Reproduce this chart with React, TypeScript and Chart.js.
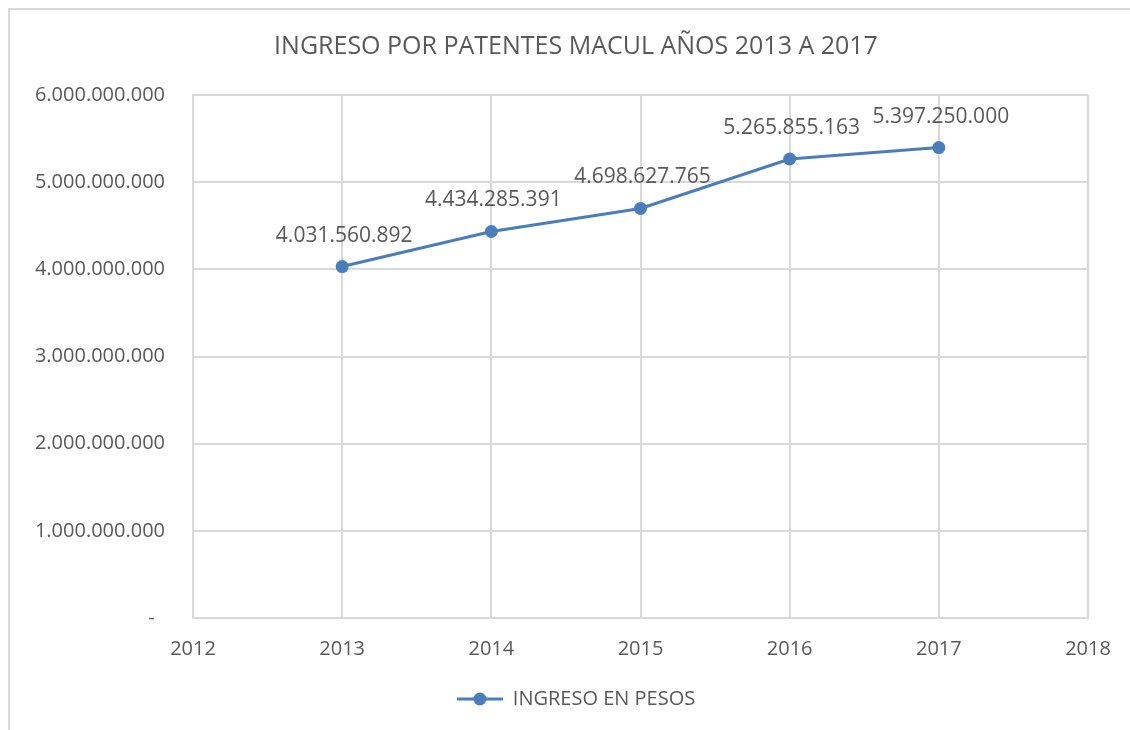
import React, { useEffect, useRef } from "react";
import { Chart, registerables } from "chart.js";

Chart.register(...registerables);

const title = "INGRESO POR PATENTES MACUL AÑOS 2013 A 2017";
const seriesName = "INGRESO EN PESOS";
const years = [2013, 2014, 2015, 2016, 2017];
const ingresos = [4031560892, 4434285391, 4698627765, 5265855163, 5397250000];
const xMin = 2012;
const xMax = 2018;
const yMin = 0;
const yMax = 6000000000;
const yStep = 1000000000;

const BLUE = "#4a7ebb";
const TEXT = "#595959";
const GRID = "#d9d9d9";
const FONT = "'Open Sans', sans-serif";
const CANVAS_W = 1152;
const CANVAS_H = 730;

function fmt(v: number): string {
  if (v === 0) return "-  ";
  return Math.round(v).toString().replace(/\B(?=(\d{3})+(?!\d))/g, ".");
}

function makeLegendIcon(): HTMLCanvasElement {
  const c = document.createElement("canvas");
  c.width = 46;
  c.height = 14;
  const g = c.getContext("2d")!;
  g.strokeStyle = BLUE;
  g.lineWidth = 3;
  g.beginPath();
  g.moveTo(0, 7);
  g.lineTo(46, 7);
  g.stroke();
  g.fillStyle = BLUE;
  g.beginPath();
  g.arc(23, 7, 6.5, 0, Math.PI * 2);
  g.fill();
  return c;
}

const frame = {
  id: "frame",
  beforeDraw(chart: any) {
    const ctx = chart.ctx;
    ctx.save();
    ctx.fillStyle = "#ffffff";
    ctx.fillRect(0, 0, chart.width, chart.height);
    ctx.strokeStyle = GRID;
    ctx.lineWidth = 2;
    ctx.strokeRect(9, 9, chart.width + 20, chart.height + 20);
    ctx.restore();
  },
};

const dataLabels = {
  id: "dataLabels",
  afterDatasetsDraw(chart: any) {
    const ctx = chart.ctx;
    const meta = chart.getDatasetMeta(0);
    ctx.save();
    ctx.font = `21px ${FONT}`;
    ctx.fillStyle = TEXT;
    ctx.textAlign = "center";
    ctx.textBaseline = "middle";
    meta.data.forEach((pt: any, i: number) => {
      ctx.fillText(fmt(ingresos[i]), pt.x + 2, pt.y - 31);
    });
    ctx.restore();
  },
};

export default function App() {
  const ref = useRef<HTMLCanvasElement | null>(null);
  useEffect(() => {
    if (!ref.current) return;
    const icon = makeLegendIcon();
    const chart = new Chart(ref.current, {
      type: "line",
      data: {
        datasets: [
          {
            label: seriesName,
            data: years.map((y, i) => ({ x: y, y: ingresos[i] })),
            borderColor: BLUE,
            backgroundColor: BLUE,
            borderWidth: 3,
            pointRadius: 6.5,
            pointBorderWidth: 0,
            pointBackgroundColor: BLUE,
            tension: 0,
            xAxisID: "x",
            yAxisID: "y",
          },
        ],
      },
      options: {
        responsive: false,
        animation: false,
        layout: { padding: { left: 0, right: 0, top: 0, bottom: 11 } },
        font: { family: FONT },
        plugins: {
          title: {
            display: true,
            text: title,
            color: TEXT,
            font: { family: FONT, size: 25, weight: "normal" },
            padding: { top: 32, bottom: 33 },
          },
          legend: {
            display: true,
            position: "bottom",
            labels: {
              color: TEXT,
              font: { family: FONT, size: 20 },
              usePointStyle: true,
              pointStyleWidth: 46,
              generateLabels: () => [
                {
                  text: seriesName,
                  fillStyle: BLUE,
                  strokeStyle: BLUE,
                  lineWidth: 0,
                  pointStyle: icon,
                  hidden: false,
                  datasetIndex: 0,
                  fontColor: TEXT,
                } as any,
              ],
            },
          },
          tooltip: { enabled: false },
        },
        scales: {
          x: {
            type: "linear",
            min: xMin,
            max: xMax,
            ticks: {
              stepSize: 1,
              color: TEXT,
              font: { family: FONT, size: 20 },
              padding: 19,
              callback: (v: any) => String(v),
            },
            grid: { color: GRID, lineWidth: 2, drawTicks: false },
            border: { color: GRID, width: 2 },
            afterFit: (s: any) => {
              s.height = 61;
            },
          },
          y: {
            position: "left",
            min: yMin,
            max: yMax,
            ticks: {
              stepSize: yStep,
              color: TEXT,
              font: { family: FONT, size: 20 },
              padding: 28,
              callback: (v: any) => fmt(Number(v)),
            },
            grid: { color: GRID, lineWidth: 2, drawTicks: false },
            border: { color: GRID, width: 2 },
            afterFit: (s: any) => {
              s.width = 193;
            },
          },
          spacer: {
            type: "linear",
            position: "right",
            min: 0,
            max: 1,
            ticks: { display: false },
            grid: { display: false, drawTicks: false },
            border: { display: false },
            afterFit: (s: any) => {
              s.width = CANVAS_W - 1088;
            },
          },
        },
      },
      plugins: [frame, dataLabels],
    } as any);
    return () => chart.destroy();
  }, []);
  return (
    <div
      style={{
        position: "absolute",
        left: 0,
        top: 0,
        width: 1130,
        height: 730,
        overflow: "hidden",
      }}
    >
      <canvas ref={ref} width={CANVAS_W} height={CANVAS_H} style={{ display: "block" }} />
    </div>
  );
}
